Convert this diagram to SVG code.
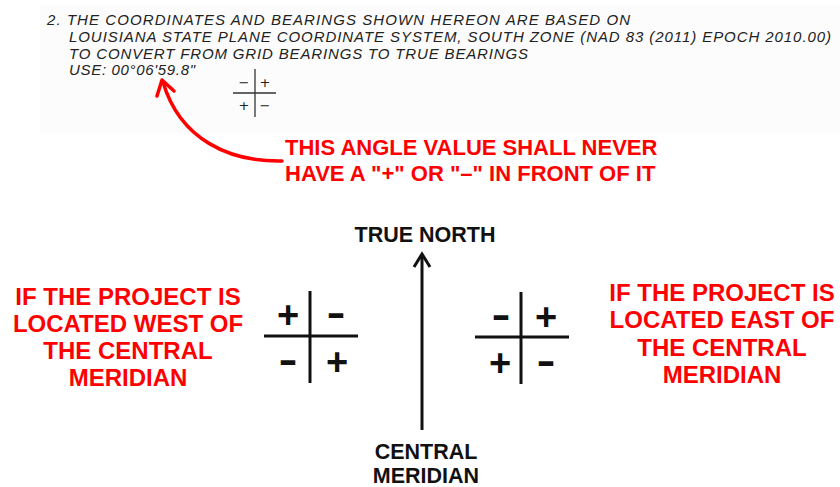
<svg xmlns="http://www.w3.org/2000/svg" width="840" height="487" viewBox="0 0 840 487">
<style>
.note{font-family:"Liberation Sans",Arial,sans-serif;font-style:italic;font-size:15px;fill:#222}
.sm{font-family:"DejaVu Sans","Liberation Sans",sans-serif;font-size:13px;fill:#222;text-anchor:middle}
.red{font-family:"Liberation Sans",Arial,sans-serif;font-weight:bold;fill:#ff0000}
.lbl{font-family:"Liberation Sans",Arial,sans-serif;font-weight:bold;font-size:21.5px;fill:#111;text-anchor:middle}
.sign{font-family:"Liberation Sans",Arial,sans-serif;font-weight:bold;font-size:38px;fill:#111;text-anchor:middle}
.ax{stroke:#111;stroke-width:3;fill:none}
.axs{stroke:#333;stroke-width:1.3;fill:none}
</style>
<rect x="40" y="5" width="800" height="128" fill="#fcfcfc"/>
<g id="note">
<text class="note" x="47" y="25" textLength="583" lengthAdjust="spacing">2.  THE  COORDINATES  AND  BEARINGS  SHOWN  HEREON  ARE  BASED  ON</text>
<text class="note" x="69" y="42" textLength="762" lengthAdjust="spacing">LOUISIANA  STATE  PLANE  COORDINATE  SYSTEM, SOUTH  ZONE  (NAD  83  (2011) EPOCH  2010.00)</text>
<text class="note" x="69" y="59" textLength="459" lengthAdjust="spacing">TO  CONVERT  FROM  GRID  BEARINGS  TO  TRUE  BEARINGS</text>
<text class="note" x="69" y="75" textLength="126" lengthAdjust="spacing">USE:  00°06'59.8"</text>
</g>
<g id="small-cross">
<line class="axs" x1="255" y1="69" x2="255" y2="117"/>
<line class="axs" x1="233" y1="93" x2="276" y2="93"/>
<text class="sm" x="244" y="87">−</text>
<text class="sm" x="265" y="87">+</text>
<text class="sm" x="244" y="110">+</text>
<text class="sm" x="265" y="110">−</text>
</g>
<g id="warning">
<text class="red" x="285" y="155" font-size="22">THIS ANGLE VALUE SHALL NEVER</text>
<text class="red" x="285" y="181" font-size="22">HAVE A "+" OR "–" IN FRONT OF IT</text>
</g>
<g id="west-text">
<text class="red" font-size="24" text-anchor="middle"><tspan x="128" y="305">IF THE PROJECT IS</tspan><tspan x="128" y="332">LOCATED WEST OF</tspan><tspan x="128" y="359">THE CENTRAL</tspan><tspan x="128" y="386">MERIDIAN</tspan></text>
</g>
<g id="east-text">
<text class="red" font-size="24" text-anchor="middle"><tspan x="722" y="301">IF THE PROJECT IS</tspan><tspan x="722" y="328">LOCATED EAST OF</tspan><tspan x="722" y="356">THE CENTRAL</tspan><tspan x="722" y="383">MERIDIAN</tspan></text>
</g>
<g id="west-cross">
<line class="ax" x1="310" y1="291" x2="310" y2="383"/>
<line class="ax" x1="264" y1="336" x2="358" y2="336"/>
<text class="sign" x="288" y="328">+</text>
<text class="sign" x="336" y="326" textLength="19" lengthAdjust="spacingAndGlyphs">-</text>
<text class="sign" x="288" y="373" textLength="19" lengthAdjust="spacingAndGlyphs">-</text>
<text class="sign" x="337" y="375">+</text>
</g>
<g id="east-cross">
<line class="ax" x1="521" y1="292" x2="521" y2="384"/>
<line class="ax" x1="475" y1="337" x2="569" y2="337"/>
<text class="sign" x="501" y="328" textLength="19" lengthAdjust="spacingAndGlyphs">-</text>
<text class="sign" x="546" y="330">+</text>
<text class="sign" x="500" y="376">+</text>
<text class="sign" x="546" y="374" textLength="19" lengthAdjust="spacingAndGlyphs">-</text>
</g>
<g id="true-north">
<text class="lbl" x="425" y="242">TRUE NORTH</text>
</g>
<g id="central-meridian">
<text class="lbl" x="426" y="459">CENTRAL</text>
<text class="lbl" x="426" y="483">MERIDIAN</text>
</g>
<g id="connectors">
<path d="M282,161 C230,162 180,140 163,82" stroke="#ff0000" stroke-width="3.5" fill="none" stroke-linecap="round"/>
<path d="M157,96 L162,80 L174,91" stroke="#ff0000" stroke-width="3.5" fill="none" stroke-linecap="round" stroke-linejoin="round"/>
<line class="ax" x1="422" y1="254" x2="422" y2="430"/>
<path class="ax" d="M414,267 L422,254 L430,267" stroke-linejoin="miter"/>
</g>
</svg>
